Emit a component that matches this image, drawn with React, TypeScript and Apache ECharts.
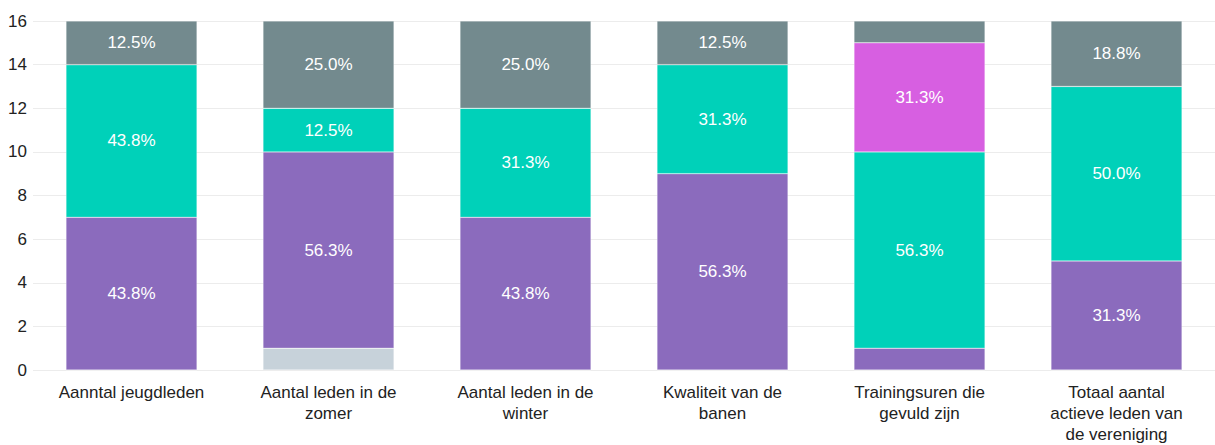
import React, { useEffect, useRef } from "react";
import * as echarts from "echarts";

const categories = [
  "Aanntal jeugdleden",
  "Aantal leden in de\nzomer",
  "Aantal leden in de\nwinter",
  "Kwaliteit van de\nbanen",
  "Trainingsuren die\ngevuld zijn",
  "Totaal aantal\nactieve leden van\nde vereniging",
];

const lightValues = [0, 1, 0, 0, 0, 0];
const purpleValues = [7, 9, 7, 9, 1, 5];
const tealValues = [7, 2, 5, 5, 9, 8];
const magentaValues = [0, 0, 0, 0, 5, 0];
const grayValues = [2, 4, 4, 2, 1, 3];

const totals = categories.map(
  (_, i) => lightValues[i] + purpleValues[i] + tealValues[i] + magentaValues[i] + grayValues[i]
);

const seriesDefs = [
  { name: "Licht", data: lightValues, color: "#c7d2da" },
  { name: "Paars", data: purpleValues, color: "#8b6bbd" },
  { name: "Groen", data: tealValues, color: "#00d1b9" },
  { name: "Roze", data: magentaValues, color: "#d75fe1" },
  { name: "Grijs", data: grayValues, color: "#738a8e" },
];

export default function App() {
  const ref = useRef<HTMLDivElement>(null);
  useEffect(() => {
    document.body.style.margin = "0";
    if (!ref.current) return;
    const chart = echarts.init(ref.current, null, { renderer: "svg" });
    chart.setOption({
      animation: false,
      textStyle: { fontFamily: "Liberation Sans, Arial, sans-serif" },
      grid: { left: 33, right: 0, top: 21, bottom: 75, containLabel: false },
      xAxis: {
        type: "category",
        data: categories,
        axisLine: { show: false },
        axisTick: { show: false },
        axisLabel: {
          color: "#222",
          fontSize: 17,
          lineHeight: 21,
          margin: 12,
          interval: 0,
        },
      },
      yAxis: {
        type: "value",
        min: 0,
        max: 16,
        interval: 2,
        axisLine: { show: false },
        axisTick: { show: false },
        axisLabel: { color: "#222", fontSize: 17, margin: 6 },
        splitLine: { lineStyle: { color: "#ececec", width: 1 } },
      },
      series: seriesDefs.map((s) => ({
        name: s.name,
        type: "bar",
        stack: "total",
        barWidth: "66.5%",
        data: s.data,
        itemStyle: { color: s.color, borderColor: "rgba(255,255,255,0.5)", borderWidth: 0.5 },
        label: {
          show: true,
          position: "inside",
          color: "#ffffff",
          fontSize: 17,
          formatter: (p: any) => {
            const v = p.value as number;
            if (v < 2) return "";
            return ((v / totals[p.dataIndex]) * 100).toFixed(1) + "%";
          },
        },
      })),
    });
    return () => chart.dispose();
  }, []);
  return <div ref={ref} style={{ width: 1215, height: 445 }} />;
}
